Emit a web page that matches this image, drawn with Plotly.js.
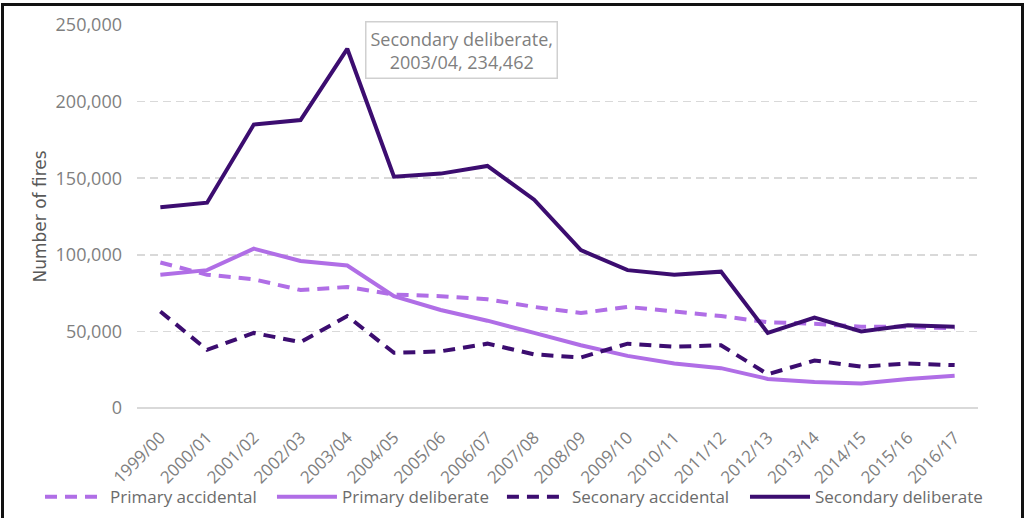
<!DOCTYPE html>
<html>
<head>
<meta charset="utf-8">
<script src="https://cdn.plot.ly/plotly-3.0.1.min.js"></script>
<style>
  html, body { margin: 0; padding: 0; background: #fff; }
  #chart { width: 1029px; height: 518px; }
  #frame { position: absolute; left: 1px; top: 3px; width: 1017px; height: 530px;
           border: 3px solid #111; pointer-events: none; }
</style>
</head>
<body>
<div id="chart"></div>
<div id="frame"></div>
<script>
const years = ["1999/00","2000/01","2001/02","2002/03","2003/04","2004/05","2005/06","2006/07","2007/08","2008/09","2009/10","2010/11","2011/12","2012/13","2013/14","2014/15","2015/16","2016/17"];
const primaryAccidental   = [95000, 87000, 84000, 77000, 79000, 74000, 73000, 71000, 66000, 62000, 66000, 63000, 60000, 56000, 55000, 53000, 53000, 52000];
const primaryDeliberate   = [87000, 90000, 104000, 96000, 93000, 73000, 64000, 57000, 49000, 41000, 34000, 29000, 26000, 19000, 17000, 16000, 19000, 21000];
const secondaryAccidental = [63000, 38000, 49000, 43000, 60000, 36000, 37000, 42000, 35000, 33000, 42000, 40000, 41000, 22000, 31000, 27000, 29000, 28000];
const secondaryDeliberate = [131000, 134000, 185000, 188000, 234462, 151000, 153000, 158000, 136000, 103000, 90000, 87000, 89000, 49000, 59000, 50000, 54000, 53000];
const seriesNames = ["Primary accidental", "Primary deliberate", "Seconary accidental", "Secondary deliberate"];
const yTicks = [0, 50000, 100000, 150000, 200000, 250000];

const light = "#b06ee6";
const dark = "#3c0d70";
const font = "Open Sans, Noto Sans, sans-serif";

const traces = [
  {x: years, y: primaryAccidental, name: seriesNames[0], mode: "lines", legend: "legend",
   line: {color: light, width: 4, dash: "12px,8px"}},
  {x: years, y: primaryDeliberate, name: seriesNames[1], mode: "lines", legend: "legend2",
   line: {color: light, width: 4}},
  {x: years, y: secondaryAccidental, name: seriesNames[2], mode: "lines", legend: "legend3",
   line: {color: dark, width: 4, dash: "12px,8px"}},
  {x: years, y: secondaryDeliberate, name: seriesNames[3], mode: "lines", legend: "legend4",
   line: {color: dark, width: 4}}
];

const peakIdx = secondaryDeliberate.indexOf(Math.max(...secondaryDeliberate));
const fmt = v => v.toLocaleString("en-GB");

const legendBase = {orientation: "h", xref: "container", yref: "container",
  xanchor: "left", y: 0.04, yanchor: "middle",
  font: {family: font, size: 17, color: "#6b6b6b"}, itemwidth: 60,
  traceorder: "normal", bgcolor: "rgba(0,0,0,0)"};

const layout = {
  width: 1029, height: 518,
  margin: {l: 137, r: 51, t: 25, b: 110},
  paper_bgcolor: "#fff", plot_bgcolor: "#fff",
  font: {family: font, color: "#7f7f7f", size: 15},
  showlegend: true,
  legend:  Object.assign({}, legendBase, {x: 0.0389}),
  legend2: Object.assign({}, legendBase, {x: 0.2643}),
  legend3: Object.assign({}, legendBase, {x: 0.4878}),
  legend4: Object.assign({}, legendBase, {x: 0.7240}),
  xaxis: {type: "category", range: [-0.5, years.length - 0.5], tickangle: -45,
          showgrid: false, zeroline: false, showline: false,
          ticks: "outside", ticklen: 12, tickcolor: "rgba(0,0,0,0)",
          automargin: false,
          tickfont: {family: font, size: 17, color: "#7f7f7f"}, fixedrange: true},
  yaxis: {range: [0, 250000], tickvals: yTicks, ticktext: yTicks.map(fmt),
          showgrid: true, gridcolor: "#d9d9d9", griddash: "8px,5px", gridwidth: 1.5,
          zeroline: true, zerolinecolor: "#d9d9d9", zerolinewidth: 1.5,
          ticks: "", ticklen: 0, ticklabelstandoff: 14, automargin: false,
          tickfont: {family: font, size: 18, color: "#7f7f7f"},
          title: {text: "Number of fires", font: {family: "DejaVu Sans, sans-serif", size: 17, color: "#595959"}, standoff: 4},
          fixedrange: true},
  annotations: [{
    x: years[peakIdx], y: secondaryDeliberate[peakIdx], xref: "x", yref: "y",
    text: seriesNames[3] + ",<br>" + years[peakIdx] + ", " + fmt(secondaryDeliberate[peakIdx]),
    showarrow: false, xshift: 114, yshift: -1,
    font: {family: font, size: 18, color: "#7f7f7f"},
    bgcolor: "#fff", bordercolor: "#d0d0d0", borderwidth: 1.5, borderpad: 4
  }]
};

Plotly.newPlot("chart", traces, layout, {displayModeBar: false, staticPlot: true});
</script>
</body>
</html>
